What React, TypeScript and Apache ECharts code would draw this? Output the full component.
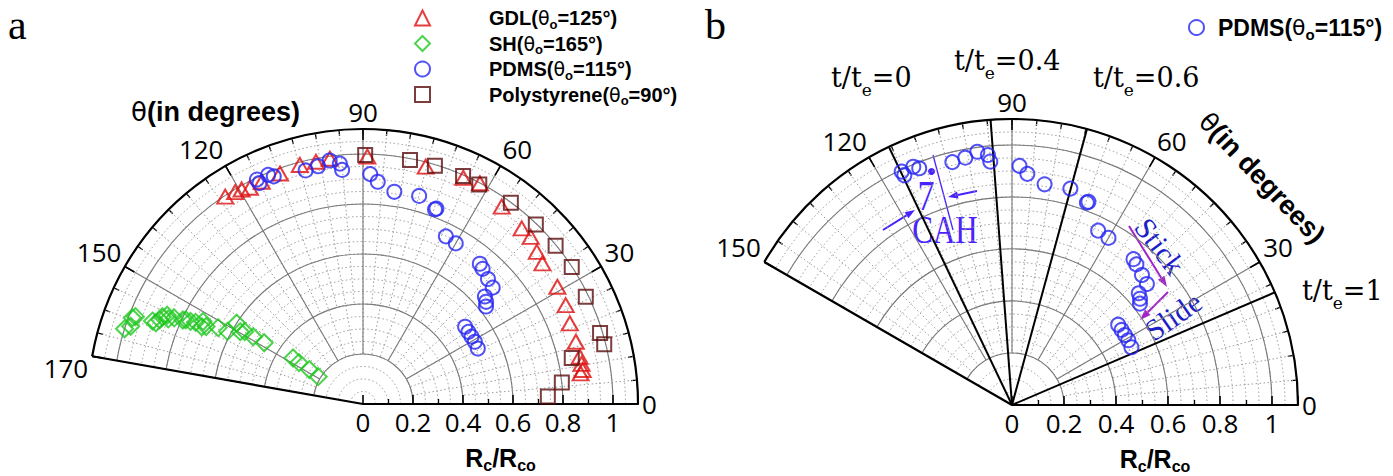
import React, { useEffect, useRef } from "react";
import * as echarts from "echarts";

// ---------------- data ----------------
const seriesNames = ["GDL", "SH", "PDMS", "Polystyrene"];
const contactAngles = [125, 165, 115, 90];
const seriesColors = ["#e00e0e", "#1fc81f", "#2626f4", "#5a0c0c"];
const seriesSymbols = ["triangle", "diamond", "circle", "rect"];

// each point: [R_c/R_co, θ in degrees]
const gdl = [
  [0.996, 123.6], [0.99, 121.1], [0.986, 119.5], [0.976, 117.6], [0.977, 114.5],
  [0.98, 109.8], [0.989, 104.8], [0.987, 101.0], [0.99, 97.7], [0.99, 89.0],
  [0.982, 75.2], [0.99, 66.1], [0.999, 62.1], [0.965, 54.9], [0.947, 47.9],
  [0.947, 44.9], [0.924, 41.2], [0.912, 38.1], [0.908, 31.1], [0.902, 26.0],
  [0.888, 21.3], [0.887, 16.3], [0.887, 12.3], [0.889, 10.4], [0.889, 8.8], [0.879, 8.0],
];
const sh = [
  [1.0, 162.5], [0.98, 161.5], [0.985, 159.5], [0.975, 159.0], [0.905, 158.5],
  [0.89, 158.6], [0.88, 157.5], [0.875, 156.5], [0.86, 155.6], [0.85, 156.4],
  [0.83, 155.5], [0.795, 155.0], [0.785, 154.6], [0.765, 154.4], [0.745, 154.0],
  [0.72, 152.7], [0.7, 153.7], [0.715, 154.4], [0.655, 152.2], [0.615, 151.8],
  [0.6, 147.4], [0.57, 149.5], [0.555, 148.5], [0.515, 148.5], [0.465, 148.2],
  [0.335, 146.7], [0.305, 147.1], [0.255, 147.3], [0.21, 148.6],
];
const pdms = [
  [0.993, 115.3], [0.976, 115.1], [0.992, 112.5], [0.978, 111.4], [0.962, 103.8],
  [0.968, 100.7], [0.983, 97.8], [0.966, 95.5], [0.94, 95.1], [0.92, 88.2],
  [0.891, 86.2], [0.858, 81.6], [0.862, 74.9], [0.835, 69.4], [0.83, 69.7],
  [0.748, 63.7], [0.742, 60.0], [0.73, 50.2], [0.722, 48.5], [0.707, 45.0],
  [0.697, 41.9], [0.65, 41.4], [0.64, 39.7], [0.628, 38.4], [0.512, 37.1],
  [0.511, 34.4], [0.511, 31.8], [0.512, 29.1], [0.51, 25.8],
];
const polystyrene = [
  [0.996, 89.5], [0.994, 79.1], [0.995, 73.2], [0.996, 66.3], [0.994, 62.1],
  [0.999, 53.7], [0.997, 46.1], [0.997, 39.4], [0.999, 33.3], [0.989, 25.7],
  [0.99, 16.7], [0.994, 13.9], [0.855, 12.4], [0.8, 6.2], [0.74, 2.3],
];
const seriesData = [gdl, sh, pdms, polystyrene];

const radiusTickLabels = ["0", "0.2", "0.4", "0.6", "0.8", "1"];
const radiusMax = 1.1;
const panelAMaxAngle = 170;
const panelBMaxAngle = 150;

// stage lines in panel b (t/t_e)
const stageLabels = ["0", "0.4", "0.6", "1"];
const stageAngles = [115.5, 94.3, 74.8, 23.2];
const stageLengths = [1.31, 1.25, 1.26, 1.3];

// ---------------- styles ----------------
const NUM_FONT = "'Open Sans', 'DejaVu Sans', sans-serif";
const BOLD_FONT = "'Liberation Sans', Arial, sans-serif";
const SERIF_FONT = "'DejaVu Serif', serif";
const TIMES_FONT = "'Liberation Serif', 'Times New Roman', serif";

const PA = { cx: 363, cy: 404, R: 275, maxA: panelAMaxAngle };
const PB = { cx: 1012, cy: 405, R: 286, maxA: panelBMaxAngle };

const off = { show: false };
const dotted = { show: true, lineStyle: { color: "#9c9c9c", width: 1, type: [1.5, 2.5] } };
const major = { show: true, lineStyle: { color: "#7a7a7a", width: 1.1 } };
const black = { show: true, lineStyle: { color: "#000", width: 2.2 } };

function radiusLabel(v: number) {
  const i = Math.round(v / 0.2);
  if (Math.abs(v - i * 0.2) < 1e-6 && i < radiusTickLabels.length) return radiusTickLabels[i];
  return "";
}

const subRich = (size: number, sub: number, drop: number) => ({
  b: { fontFamily: BOLD_FONT, fontWeight: "bold", fontSize: size, color: "#000" },
  s: { fontFamily: BOLD_FONT, fontWeight: "bold", fontSize: sub, color: "#000", padding: [drop, 0, 0, 0] },
});

function panel(p: { cx: number; cy: number; R: number; maxA: number }, base: number) {
  const k = p.R / radiusMax;
  const c = [p.cx, p.cy];
  const polar = [
    { center: c, radius: [0, p.R] },
    { center: c, radius: [0.2 * k, 0.4 * k] },
    { center: c, radius: [0.4 * k, p.R] },
    { center: c, radius: [0.2 * k, p.R] },
    { center: c, radius: [0, p.R] },
    { center: c, radius: [0, p.R] },
  ];
  const aBase = {
    type: "value", min: 0, max: p.maxA, startAngle: 0, endAngle: p.maxA, clockwise: false,
    axisLine: off, axisTick: off, axisLabel: off, splitLine: off, silent: true,
  };
  const angleAxis = [
    { ...aBase, polarIndex: base },
    { ...aBase, polarIndex: base + 1, interval: 10, splitLine: dotted },
    {
      ...aBase, polarIndex: base + 2, interval: 5, splitLine: dotted,
      axisTick: { show: true, inside: true, length: 6, lineStyle: { color: "#000", width: 1.3 } },
    },
    { ...aBase, polarIndex: base + 3, interval: 30, splitLine: major },
    {
      ...aBase, polarIndex: base + 4, interval: 30,
      axisLine: black,
      axisTick: { show: true, inside: true, length: 11, lineStyle: { color: "#000", width: 1.6 } },
      axisLabel: {
        show: true, margin: 4, fontSize: 26, fontFamily: NUM_FONT, color: "#000",
        formatter: (v: number) => (v === 170 ? "{low|170}" : String(v)),
        rich: { low: { fontSize: 26, fontFamily: NUM_FONT, color: "#000", padding: [24, 0, 0, 0] } },
      },
    },
    { ...aBase, polarIndex: base + 5, interval: p.maxA, splitLine: black },
  ];
  const rBase = {
    type: "value", min: 0, max: radiusMax,
    axisLine: off, axisTick: off, axisLabel: off, splitLine: off, silent: true,
  };
  const radiusAxis = [
    { ...rBase, polarIndex: base, interval: 0.05, splitLine: dotted },
    { ...rBase, polarIndex: base + 1, min: 0.2, max: 0.4 },
    { ...rBase, polarIndex: base + 2, min: 0.4, max: radiusMax },
    { ...rBase, polarIndex: base + 3, min: 0.2, max: radiusMax },
    {
      ...rBase, polarIndex: base + 4, interval: 0.2, splitLine: major,
      axisLine: black,
      axisTick: { show: true, length: 9, lineStyle: { color: "#000", width: 1.6 } },
      minorTick: { show: true, splitNumber: 2, length: 5, lineStyle: { color: "#000", width: 1.3 } },
      axisLabel: {
        show: true, margin: -31, fontSize: 26, fontFamily: NUM_FONT, color: "#000",
        formatter: radiusLabel, hideOverlap: false,
      },
      name: "{b|R}{s|c}{b|/R}{s|co}",
      nameLocation: "middle",
      nameGap: 39,
      nameMoveOverlap: false,
      nameTextStyle: { rich: subRich(25, 16, 14) },
    },
    { ...rBase, polarIndex: base + 5 },
  ];
  return { polar, angleAxis, radiusAxis };
}

function legendFormatter(name: string) {
  const i = seriesNames.indexOf(name);
  return `{g| }{b|${name}(}{t|θ}{s|o}{b|=${contactAngles[i]}°)}`;
}
const makeLegendRich = (gap: number, size: number) => ({
  g: { width: gap },
  b: { fontFamily: BOLD_FONT, fontWeight: "bold", fontSize: size, color: "#000" },
  t: { fontFamily: "'DejaVu Sans', sans-serif", fontSize: size - 1, color: "#000" },
  s: { fontFamily: BOLD_FONT, fontWeight: "bold", fontSize: Math.round(size * 0.65), color: "#000", padding: [Math.round(size * 0.6), 0, 0, 0] },
});

function arrow(x1: number, y1: number, x2: number, y2: number, color: string, w: number, head: number) {
  const a = Math.atan2(y2 - y1, x2 - x1);
  const hx = x2 - head * Math.cos(a);
  const hy = y2 - head * Math.sin(a);
  const px = Math.sin(a) * head * 0.35;
  const py = -Math.cos(a) * head * 0.35;
  return [
    { type: "line", silent: true, shape: { x1, y1, x2: hx, y2: hy }, style: { stroke: color, lineWidth: w } },
    {
      type: "polygon", silent: true,
      shape: { points: [[x2, y2], [hx + px, hy + py], [hx - px, hy - py]] },
      style: { fill: color },
    },
  ];
}

function stageText(label: string) {
  return `{m|t/t}{s|e}{m|=${label}}`;
}
const stageRich = {
  m: { fontFamily: SERIF_FONT, fontSize: 27, color: "#000" },
  s: { fontFamily: SERIF_FONT, fontSize: 17, color: "#000", padding: [26, 0, 0, 0] },
};
const stageTextPos = [
  [831, 77], [954, 60], [1093, 77], [1302, 290],
];

function buildOption() {
  const a = panel(PA, 0);
  const b = panel(PB, 6);
  const series: any[] = [];
  seriesNames.forEach((n, i) => {
    series.push({
      type: "scatter", name: n, coordinateSystem: "polar", polarIndex: 4,
      data: seriesData[i], symbol: seriesSymbols[i],
      symbolSize: i === 0 ? [16, 14] : i === 1 ? 17 : 14,
      itemStyle: { color: "rgba(0,0,0,0)", borderColor: seriesColors[i], borderWidth: 2 },
      silent: true, z: 5,
    });
  });
  series.push({
    type: "scatter", name: "PDMS", coordinateSystem: "polar", polarIndex: 10,
    data: pdms, symbol: "circle", symbolSize: 14,
    itemStyle: { color: "rgba(0,0,0,0)", borderColor: seriesColors[2], borderWidth: 2 },
    silent: true, z: 5,
  });
  stageAngles.forEach((ang, i) => {
    series.push({
      type: "line", coordinateSystem: "polar", polarIndex: 10, clip: false,
      data: [[0, ang], [stageLengths[i], ang]], symbol: "none",
      lineStyle: { color: "#000", width: 2 }, silent: true, z: 4,
    });
  });

  const violet = "#4a22ff";
  const purple = "#a024c8";
  const thetaRich = {
    t: { fontFamily: "'DejaVu Sans', sans-serif", fontSize: 26, fill: "#000" },
    b: { fontFamily: BOLD_FONT, fontWeight: "bold", fontSize: 27, fill: "#000" },
  };
  const graphic: any[] = [
    { type: "text", x: 8, y: 25, silent: true, style: { text: "a", verticalAlign: "middle", fontFamily: TIMES_FONT, fontSize: 42, fill: "#000" } },
    { type: "text", x: 705, y: 25, silent: true, style: { text: "b", verticalAlign: "middle", fontFamily: TIMES_FONT, fontSize: 42, fill: "#000" } },
    {
      type: "text", x: 131, y: 112, silent: true,
      style: { text: "{t|θ}{b|(in degrees)}", verticalAlign: "middle", rich: thetaRich },
    },
    {
      type: "text", x: 1262, y: 178, rotation: -0.81, silent: true,
      style: { text: "{t|θ}{b|(in degrees)}", align: "center", verticalAlign: "middle", rich: thetaRich },
    },
    ...stageLabels.map((l, i) => ({
      type: "text", x: stageTextPos[i][0], y: stageTextPos[i][1], silent: true,
      style: { text: stageText(l), verticalAlign: "middle", rich: stageRich },
    })),
    {
      type: "text", x: 1160, y: 246, rotation: -0.925, silent: true,
      style: { text: "Stick", align: "center", verticalAlign: "middle", fontFamily: TIMES_FONT, fontSize: 30, fill: "#1c1cc8" },
    },
    {
      type: "text", x: 1173, y: 316, rotation: 0.61, silent: true,
      style: { text: "Slide", align: "center", verticalAlign: "middle", fontFamily: TIMES_FONT, fontSize: 30, fill: "#1c1cc8" },
    },
    ...arrow(1129, 226, 1167, 287, purple, 2, 11),
    ...arrow(1168, 292, 1140, 320, purple, 2, 11),
    { type: "circle", silent: true, shape: { cx: 931.5, cy: 171.5, r: 3.5 }, style: { fill: violet } },
    { type: "line", silent: true, shape: { x1: 933, y1: 155, x2: 953, y2: 230 }, style: { stroke: violet, lineWidth: 1.3 } },
    {
      type: "text", x: 926, y: 196, scaleY: 1.25, silent: true,
      style: { text: "7", align: "center", verticalAlign: "middle", fontFamily: TIMES_FONT, fontSize: 34, fill: violet },
    },
    {
      type: "text", x: 945, y: 230, scaleY: 1.3, silent: true,
      style: { text: "CAH", align: "center", verticalAlign: "middle", fontFamily: TIMES_FONT, fontSize: 31, fill: violet },
    },
    ...arrow(883, 230, 915, 210, violet, 2, 10),
    ...arrow(977, 191, 948, 197, violet, 2, 10),
  ];

  const legendItem = (n: string) => {
    const i = seriesNames.indexOf(n);
    return {
      name: n, icon: seriesSymbols[i],
      itemStyle: { color: "rgba(0,0,0,0)", borderColor: seriesColors[i], borderWidth: 2 },
    };
  };

  return {
    animation: false,
    backgroundColor: "#fff",
    tooltip: { show: false },
    polar: [...a.polar, ...b.polar],
    angleAxis: [...a.angleAxis, ...b.angleAxis],
    radiusAxis: [...a.radiusAxis, ...b.radiusAxis],
    legend: [
      {
        orient: "vertical", left: 409, top: 3, itemWidth: 15, itemHeight: 15, itemGap: 3,
        selectedMode: false, data: seriesNames.map(legendItem),
        formatter: legendFormatter, textStyle: { rich: makeLegendRich(54, 20) },
      },
      {
        orient: "vertical", left: 1183, top: 11, itemWidth: 15, itemHeight: 15,
        selectedMode: false, data: [legendItem("PDMS")],
        formatter: legendFormatter, textStyle: { rich: makeLegendRich(9, 23) },
      },
    ],
    series,
    graphic,
  };
}

export default function App() {
  const ref = useRef<HTMLDivElement>(null);
  useEffect(() => {
    if (!ref.current) return;
    const chart = echarts.init(ref.current, null, { renderer: "svg" });
    chart.setOption(buildOption() as any);
    return () => chart.dispose();
  }, []);
  return (
    <div
      ref={ref}
      style={{ position: "absolute", left: 0, top: 0, width: 1393, height: 476, background: "#fff" }}
    />
  );
}
